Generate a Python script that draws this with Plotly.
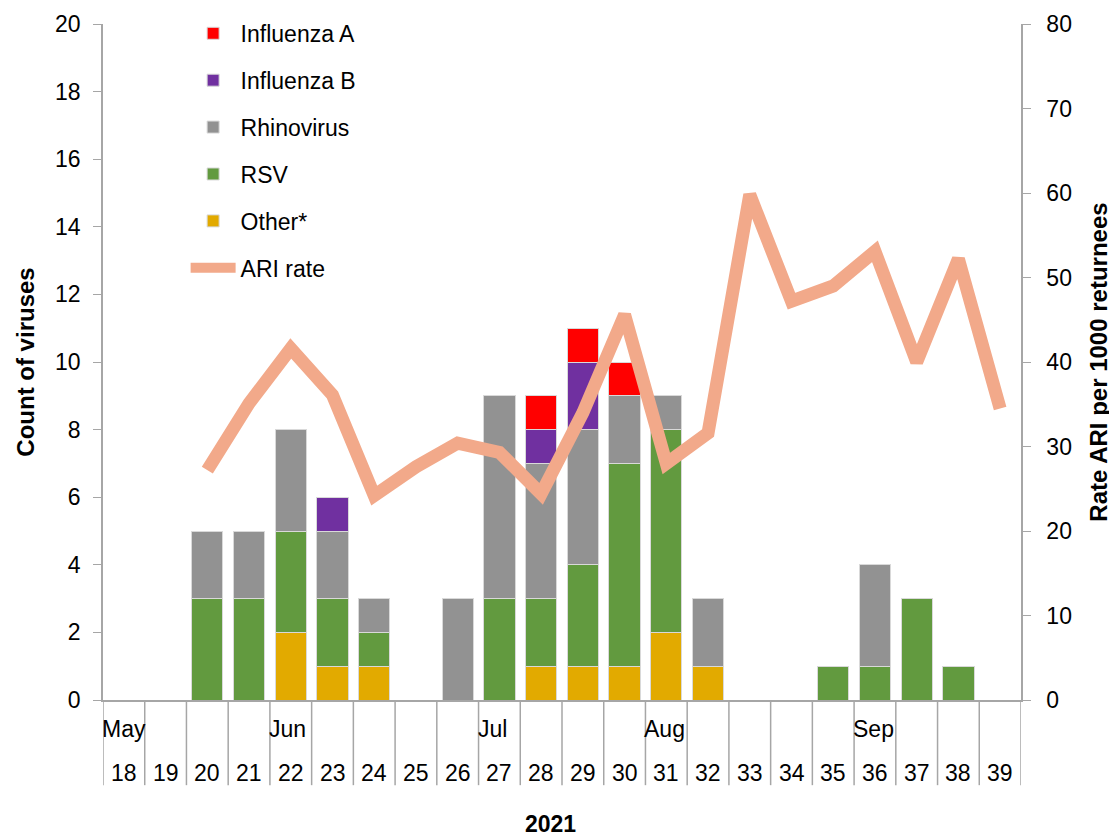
import plotly.graph_objects as go

weeks = list(range(18, 40))
month_labels = {18: "May", 22: "Jun", 27: "Jul", 31: "Aug", 36: "Sep"}

other = [0, 0, 0, 0, 2, 1, 1, 0, 0, 0, 1, 1, 1, 2, 1, 0, 0, 0, 0, 0, 0, 0]
rsv = [0, 0, 3, 3, 3, 2, 1, 0, 0, 3, 2, 3, 6, 6, 0, 0, 0, 1, 1, 3, 1, 0]
rhino = [0, 0, 2, 2, 3, 2, 1, 0, 3, 6, 4, 4, 2, 1, 2, 0, 0, 0, 3, 0, 0, 0]
flu_b = [0, 0, 0, 0, 0, 1, 0, 0, 0, 0, 1, 2, 0, 0, 0, 0, 0, 0, 0, 0, 0, 0]
flu_a = [0, 0, 0, 0, 0, 0, 0, 0, 0, 0, 1, 1, 1, 0, 0, 0, 0, 0, 0, 0, 0, 0]

ari_weeks = list(range(20, 40))
ari_rate = [27.2, 35.1, 41.6, 36.1, 24.2, 27.6, 30.4, 29.3, 24.4, 34.0,
            45.6, 28.0, 31.6, 59.8, 47.2, 49.0, 53.1, 40.0, 52.2, 34.5]

FONT = "Liberation Sans, Arial, sans-serif"
FS = 23

series = [
    ("Other*", other, "#E2AA00", 5),
    ("RSV", rsv, "#629A3F", 4),
    ("Rhinovirus", rhino, "#929292", 3),
    ("Influenza B", flu_b, "#7030A0", 2),
    ("Influenza A", flu_a, "#FF0000", 1),
]

fig = go.Figure()
for name, vals, color, rank in series:
    fig.add_trace(go.Bar(
        x=weeks, y=[v if v else None for v in vals], name=name,
        marker=dict(color=color, line=dict(color="#D9D9D9", width=1)),
        width=0.75, legendrank=rank, legendgroup=name,
    ))

fig.add_trace(go.Scatter(
    x=ari_weeks, y=ari_rate, name="ARI rate", mode="lines", yaxis="y2",
    line=dict(color="#F2A98A", width=13), legendrank=6, legendgroup="ari",
))

shapes = []
for w in weeks + [weeks[-1] + 1]:
    shapes.append(dict(type="line", xref="x", yref="paper", x0=w - 0.5, x1=w - 0.5,
                       y0=0, y1=-0.126, line=dict(color="#A6A6A6", width=1.5)))

annotations = []
for w in weeks:
    annotations.append(dict(x=w, y=-0.108, xref="x", yref="paper", text=str(w),
                            showarrow=False, font=dict(size=FS, color="black", family=FONT),
                            xanchor="center", yanchor="middle"))
for w, m in month_labels.items():
    annotations.append(dict(x=w - 0.5, y=-0.043, xref="x", yref="paper", text=m,
                            showarrow=False, font=dict(size=FS, color="black", family=FONT),
                            xanchor="left", yanchor="middle", xshift=-3))
annotations.append(dict(x=0.487, y=-0.184, xref="paper", yref="paper", text="<b>2021</b>",
                        showarrow=False, font=dict(size=FS, color="black", family=FONT),
                        xanchor="center", yanchor="middle"))

fig.update_layout(
    width=1109, height=828,
    margin=dict(l=95, r=96, t=16, b=136, autoexpand=False),
    paper_bgcolor="white", plot_bgcolor="white",
    barmode="stack",
    font=dict(family=FONT, size=FS, color="black"),
    showlegend=True,
    legend=dict(x=0.09, y=1.018, xanchor="left", yanchor="top",
                bgcolor="rgba(0,0,0,0)", font=dict(size=FS, family=FONT),
                tracegroupgap=14, itemwidth=45),
    xaxis=dict(range=[17.5, 39.5], showticklabels=False, ticks="",
               showgrid=False, zeroline=False, showline=True,
               linecolor="#A6A6A6", linewidth=1.5, automargin=False),
    yaxis=dict(range=[0, 20], dtick=2, ticks="outside", ticklen=8,
               tickcolor="#A6A6A6", showline=True, linecolor="#A6A6A6", linewidth=1.5,
               showgrid=False, zeroline=False, automargin=False, ticklabelstandoff=8,
               title=dict(text="<b>Count of viruses</b>", font=dict(size=24), standoff=14),
               tickfont=dict(size=FS)),
    yaxis2=dict(range=[0, 80], dtick=10, overlaying="y", side="right",
                ticks="outside", ticklen=8, tickcolor="#A6A6A6",
                showline=True, linecolor="#A6A6A6", linewidth=1.5,
                showgrid=False, zeroline=False, automargin=False, ticklabelstandoff=11,
                title=dict(text="<b>Rate ARI per 1000 returnees</b>", font=dict(size=24), standoff=19),
                tickfont=dict(size=FS)),
    shapes=shapes,
    annotations=annotations,
)

fig.write_html("out.html")
